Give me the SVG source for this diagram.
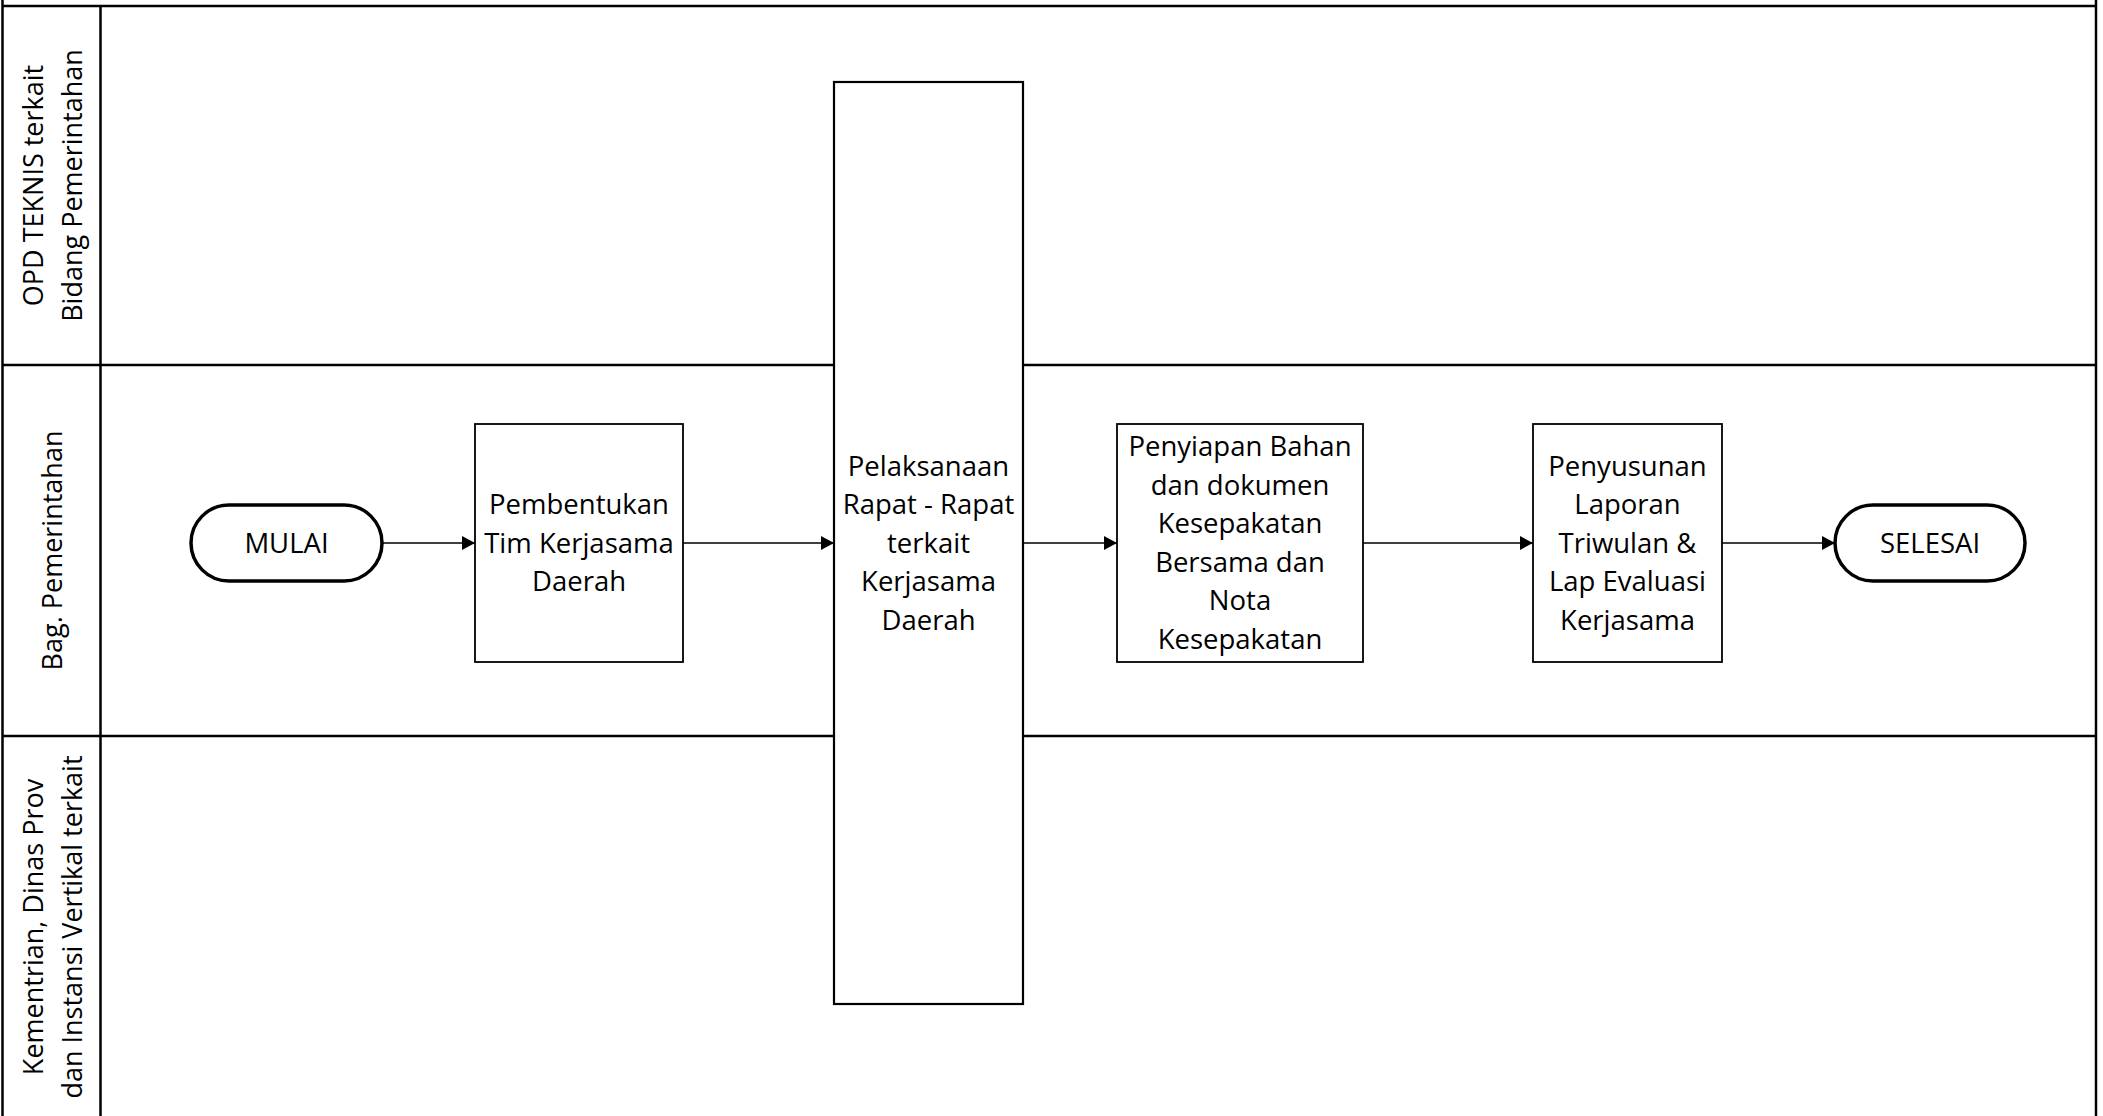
<svg xmlns="http://www.w3.org/2000/svg" width="2103" height="1116" viewBox="0 0 2103 1116">
<style>
.lane{stroke:#000;stroke-width:2.5;fill:none}
.box{fill:#fff;stroke:#000;stroke-width:1.8}
.term{fill:#fff;stroke:#000;stroke-width:3.5}
.conn{stroke:#000;stroke-width:1.4;fill:none}
text{font-family:"Open Sans","Liberation Sans",sans-serif;font-size:27.5px;fill:#000;text-anchor:middle}
.lbl{font-size:27px}
</style>
<defs>
<marker id="arr" markerWidth="13" markerHeight="14" refX="13" refY="7" orient="auto" markerUnits="userSpaceOnUse">
<path d="M0,0 L13,7 L0,14 z" fill="#000"/>
</marker>
</defs>
<rect x="0" y="0" width="2103" height="1116" fill="#fff"/>
<g id="lanes">
<line class="lane" x1="2.5" y1="0" x2="2.5" y2="1116"/>
<line class="lane" x1="2096" y1="0" x2="2096" y2="1116"/>
<line class="lane" x1="100.5" y1="6" x2="100.5" y2="1116"/>
<line class="lane" x1="2" y1="6" x2="2097" y2="6"/>
<line class="lane" x1="2" y1="365" x2="2097" y2="365"/>
<line class="lane" x1="2" y1="736" x2="2097" y2="736"/>
</g>
<g id="lane-labels">
<text class="lbl" transform="translate(43,185.5) rotate(-90)">OPD TEKNIS terkait</text>
<text class="lbl" transform="translate(81.5,185.5) rotate(-90)">Bidang Pemerintahan</text>
<text class="lbl" transform="translate(61.5,550.5) rotate(-90)">Bag. Pemerintahan</text>
<text class="lbl" transform="translate(43,927) rotate(-90)">Kementrian, Dinas Prov</text>
<text class="lbl" transform="translate(81.5,927) rotate(-90)">dan Instansi Vertikal terkait</text>
</g>
<g id="connectors">
<line class="conn" x1="382" y1="543" x2="475" y2="543" marker-end="url(#arr)"/>
<line class="conn" x1="683" y1="543" x2="834" y2="543" marker-end="url(#arr)"/>
<line class="conn" x1="1023" y1="543" x2="1117" y2="543" marker-end="url(#arr)"/>
<line class="conn" x1="1363" y1="543" x2="1533" y2="543" marker-end="url(#arr)"/>
<line class="conn" x1="1722" y1="543" x2="1835" y2="543" marker-end="url(#arr)"/>
</g>
<g id="mulai">
<rect class="term" x="191" y="505" width="191" height="76" rx="38" ry="38"/>
<text x="286.5" y="552.5">MULAI</text>
</g>
<g id="pembentukan">
<rect class="box" x="475" y="424" width="208" height="238"/>
<text x="579" y="514">Pembentukan</text>
<text x="579" y="552.5">Tim Kerjasama</text>
<text x="579" y="591">Daerah</text>
</g>
<g id="pelaksanaan">
<rect class="box" x="834" y="82" width="189" height="922" style="stroke-width:2.2"/>
<text x="928.5" y="475.5">Pelaksanaan</text>
<text x="928.5" y="514">Rapat - Rapat</text>
<text x="928.5" y="552.5">terkait</text>
<text x="928.5" y="591">Kerjasama</text>
<text x="928.5" y="629.5">Daerah</text>
</g>
<g id="penyiapan">
<rect class="box" x="1117" y="424" width="246" height="238"/>
<text x="1240" y="456.25">Penyiapan Bahan</text>
<text x="1240" y="494.75">dan dokumen</text>
<text x="1240" y="533.25">Kesepakatan</text>
<text x="1240" y="571.75">Bersama dan</text>
<text x="1240" y="610.25">Nota</text>
<text x="1240" y="648.75">Kesepakatan</text>
</g>
<g id="penyusunan">
<rect class="box" x="1533" y="424" width="189" height="238"/>
<text x="1627.5" y="475.5">Penyusunan</text>
<text x="1627.5" y="514">Laporan</text>
<text x="1627.5" y="552.5">Triwulan &amp;</text>
<text x="1627.5" y="591">Lap Evaluasi</text>
<text x="1627.5" y="629.5">Kerjasama</text>
</g>
<g id="selesai">
<rect class="term" x="1835" y="505" width="190" height="76" rx="38" ry="38"/>
<text x="1930" y="552.5">SELESAI</text>
</g>
</svg>
